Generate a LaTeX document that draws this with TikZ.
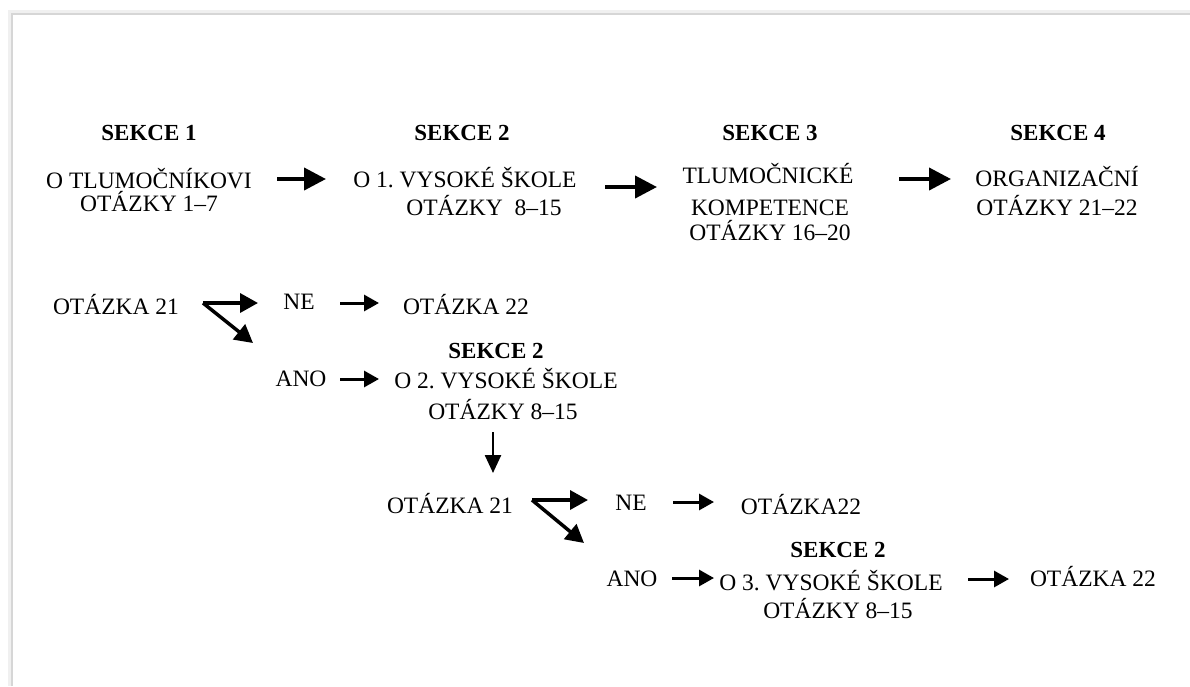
\documentclass[tikz,border=0pt]{standalone}
\usepackage{fontspec}
\setmainfont{Liberation Serif}
\usetikzlibrary{arrows.meta}
\begin{document}
\frenchspacing
\begin{tikzpicture}[x=1pt,y=-1pt,
  txt/.style={inner sep=0pt,text height=0.66em,text depth=0pt,yshift=-5pt,font=\fontsize{23.5}{27}\selectfont},
  hd/.style={txt,font=\fontsize{23}{27}\selectfont\bfseries},
  bigarr/.style={line width=4pt,-{Triangle[length=22pt,width=22pt]}},
  forkarr/.style={line width=3.5pt,-{Triangle[length=18pt,width=19pt]}},
  smallarr/.style={line width=3pt,-{Triangle[length=15pt,width=16pt]}},
  downarr/.style={line width=2.5pt,-{Triangle[length=18pt,width=16pt]}},
  framel/.style={line cap=butt}]
\useasboundingbox (0,0) rectangle (1190,686);
\fill[white] (0,0) rectangle (1190,686);
% frame / shadow
\draw[framel,line width=5pt,black!6] (10,686) -- (10,12) -- (1190,12);
\draw[framel,line width=2.5pt,black!16] (12,686) -- (12,14) -- (1190,14);
% top row
\node[hd] (h1) at (149,132) {SEKCE 1};
\node[txt] (a1) at (149,180) {O TLUMOČNÍKOVI};
\node[txt] (a2) at (149,203) {OTÁZKY 1–7};
\node[hd] (h2) at (462,132) {SEKCE 2};
\node[txt] (b1) at (465,179) {O 1. VYSOKÉ ŠKOLE};
\node[txt] (b2) at (484,207) {OTÁZKY\ \ 8–15};
\node[hd] (h3) at (770,132) {SEKCE 3};
\node[txt] (c1) at (768,175) {TLUMOČNICKÉ};
\node[txt] (c2) at (770,207) {KOMPETENCE};
\node[txt] (c3) at (770,232) {OTÁZKY 16–20};
\node[hd] (h4) at (1058,132) {SEKCE 4};
\node[txt] (d1) at (1057,178) {ORGANIZAČNÍ};
\node[txt] (d2) at (1057,207) {OTÁZKY 21–22};
\coordinate (p1s) at (277,179); \coordinate (p1e) at (326,179);
\coordinate (p2s) at (605,187); \coordinate (p2e) at (657,187);
\coordinate (p3s) at (899,179); \coordinate (p3e) at (951,179);
\draw[bigarr] (p1s) -- (p1e);
\draw[bigarr] (p2s) -- (p2e);
\draw[bigarr] (p3s) -- (p3e);
% second block
\node[txt] (q1) at (116,306) {OTÁZKA 21};
\node[txt] (ne1) at (299,301) {NE};
\node[txt] (q1n) at (466,306) {OTÁZKA 22};
\node[hd] (h5) at (496,350) {SEKCE 2};
\node[txt] (ano1) at (301,378) {ANO};
\node[txt] (e1) at (506,380) {O 2. VYSOKÉ ŠKOLE};
\node[txt] (e2) at (503,411) {OTÁZKY 8–15};
\coordinate (f1) at (203,303);
\coordinate (f1h) at (258,303);
\coordinate (f1d) at (253,343);
\draw[forkarr] (f1) -- (f1h);
\draw[forkarr] (f1) -- (f1d);
\coordinate (n1s) at (340,303); \coordinate (n1e) at (379,303);
\draw[smallarr] (n1s) -- (n1e);
\coordinate (a1s) at (340,379); \coordinate (a1e) at (379,379);
\draw[smallarr] (a1s) -- (a1e);
\coordinate (vds) at (493,432); \coordinate (vde) at (493,473);
\draw[downarr] (vds) -- (vde);
% third block
\node[txt] (q2) at (450,505) {OTÁZKA 21};
\node[txt] (ne2) at (631,502) {NE};
\node[txt] (q2n) at (801,506) {OTÁZKA22};
\node[hd] (h6) at (838,549) {SEKCE 2};
\node[txt] (ano2) at (632,578) {ANO};
\node[txt] (g1) at (831,582) {O 3. VYSOKÉ ŠKOLE};
\node[txt] (g2) at (838,610) {OTÁZKY 8–15};
\node[txt] (q3) at (1093,578) {OTÁZKA 22};
\coordinate (f2) at (532,500);
\coordinate (f2h) at (588,500);
\coordinate (f2d) at (584,543);
\draw[forkarr] (f2) -- (f2h);
\draw[forkarr] (f2) -- (f2d);
\coordinate (n2s) at (673,502); \coordinate (n2e) at (714,502);
\draw[smallarr] (n2s) -- (n2e);
\coordinate (a2s) at (672,578); \coordinate (a2e) at (714,578);
\draw[smallarr] (a2s) -- (a2e);
\coordinate (o3s) at (968,579); \coordinate (o3e) at (1009,579);
\draw[smallarr] (o3s) -- (o3e);
\end{tikzpicture}
\end{document}
